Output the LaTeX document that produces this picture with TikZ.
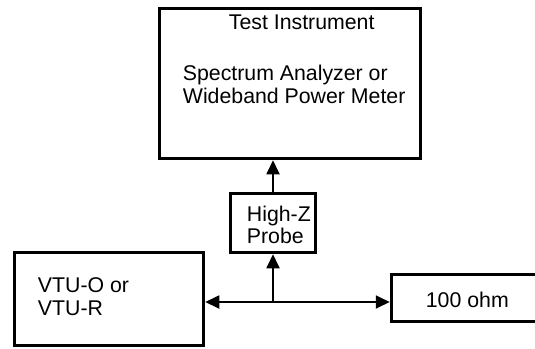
\documentclass[tikz,border=0pt]{standalone}
\usepackage{fontspec}
\setmainfont{Liberation Sans}
\usetikzlibrary{arrows.meta,positioning}

\begin{document}
\begin{tikzpicture}[x=1pt,y=-1pt,>={Triangle[length=14pt,width=13pt]},
                    line width=1.8pt]

  \tikzstyle{block}=[rectangle,draw,line width=3.5pt,inner sep=0pt]
  \tikzstyle{label}=[anchor=base west,inner sep=0pt,align=left,
                     font=\fontsize{21.3}{23}\selectfont]

  \useasboundingbox (0,0) rectangle (535,348);
  \clip (0,0) rectangle (535,348);

  \node[block,minimum width=261pt,minimum height=150pt] (TI)  at (290,83.5)   {};
  \node[block,minimum width=85pt,minimum height=59pt]   (PRB) at (273,223)    {};
  \node[block,minimum width=189pt,minimum height=93pt]  (VTU) at (109,299)    {};
  \node[block,minimum width=170pt,minimum height=47pt]  (OHM) at (476.5,298)  {};

  % multi-line labels sit on the baseline of their last line
  \node[label] (TIt)  at (228,29)  {Test Instrument};
  \node[label] (TIb)  at (182,103) {Spectrum Analyzer or\\Wideband Power Meter};
  \node[label,font=\fontsize{21.3}{21.5}\selectfont] (PRBt) at (246,243) {High-Z\\Probe};
  \node[label] (VTUt) at (37,315)  {VTU-O or\\VTU-R};
  \node[label] (OHMt) at (425,307) {100 ohm};

  \coordinate (J) at (273,302);

  \draw[->] (J) -- (J -| VTU.east);
  \draw[->] (J) -- (J -| OHM.west);
  \draw[->] (J) -- (PRB.south);
  \draw[->] (PRB.north) -- (PRB.north |- TI.south);
\end{tikzpicture}
\end{document}
